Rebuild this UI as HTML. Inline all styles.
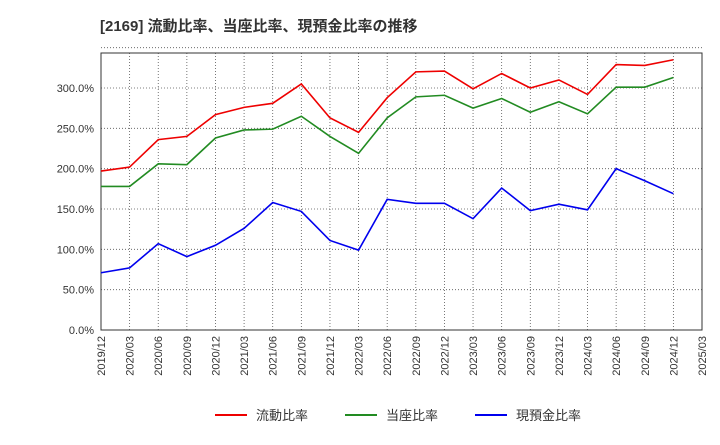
<!DOCTYPE html>
<html><head><meta charset="utf-8"><style>
body{margin:0;background:#fff;font-family:"Liberation Sans","Noto Sans CJK JP",sans-serif;}
svg text{font-family:"Liberation Sans","Noto Sans CJK JP",sans-serif;}
</style></head><body>
<svg id="chart" width="720" height="440">
<text x="100" y="31" font-size="15" font-weight="bold" fill="#333">[2169]  流動比率、当座比率、現預金比率の推移</text>
<g id="grid"></g><g id="axes"></g><g id="series"></g><g id="legend"></g>
</svg>
<script>
const categories=["2019/12","2020/03","2020/06","2020/09","2020/12","2021/03","2021/06","2021/09","2021/12","2022/03","2022/06","2022/09","2022/12","2023/03","2023/06","2023/09","2023/12","2024/03","2024/06","2024/09","2024/12","2025/03"];
const currentRatio=[197,202,236,240,267,276,281,305,263,245,288,320,321,299,318,300,310,292,329,328,335];
const quickRatio=[178,178,206,205,238,248,249,265,240,219,263,289,291,275,287,270,283,268,301,301,313];
const cashRatio=[71,77,107,91,105,126,158,147,111,99,162,157,157,138,176,148,156,149,200,185,169];
const yTicks=[0,50,100,150,200,250,300];
const yTickLabels=["0.0%","50.0%","100.0%","150.0%","200.0%","250.0%","300.0%"];
const seriesNames=["流動比率","当座比率","現預金比率"];
const NS="http://www.w3.org/2000/svg";
const L=101,R=702,T=53,B=330;
const xs=i=>L+i*(R-L)/(categories.length-1);
const ys=v=>B-v*(242/300);
function mk(tag,attrs,parent){const e=document.createElementNS(NS,tag);for(const k in attrs)e.setAttribute(k,attrs[k]);document.getElementById(parent).appendChild(e);return e;}
// frame
const fr=mk('rect',{x:L,y:T,width:R-L,height:B-T,fill:'none',stroke:'#333','stroke-width':1},'axes');


// horizontal grid
[...yTicks,350].forEach((v,i)=>{
 const g=mk('line',{x1:L,x2:R,y1:ys(v),y2:ys(v),stroke:'#555','stroke-width':0.8,'stroke-dasharray':'1,2'},'grid');
 
 
 if(i<yTicks.length){
 const t=mk('text',{x:L-7,y:ys(v)+4,'text-anchor':'end','font-size':11,fill:'#333'},'axes');
 t.textContent=yTickLabels[i];
 
 }
});
categories.forEach((c,i)=>{
 const g=mk('line',{x1:xs(i),x2:xs(i),y1:T,y2:B,stroke:'#555','stroke-width':0.8,'stroke-dasharray':'1,2'},'grid');
 
 
 const t=mk('text',{x:xs(i)+4,y:B+6,'text-anchor':'end','font-size':11,fill:'#333',transform:`rotate(-90 ${xs(i)+4} ${B+6})`},'axes');
 t.textContent=c;
 
 
});
const colors=["#e00","#228b22","#00e"];
[currentRatio,quickRatio,cashRatio].forEach((d,s)=>{
 const p=mk('polyline',{points:d.map((v,i)=>xs(i)+','+ys(v)).join(' '),fill:'none',stroke:colors[s],'stroke-width':1.6},'series');
 
 
 const lx=[215,345,475][s];
 const ll=mk('line',{x1:lx,x2:lx+32,y1:415,y2:415,stroke:colors[s],'stroke-width':2},'legend');
 
 
 const lt=mk('text',{x:lx+41,y:420,'font-size':13,fill:'#333'},'legend');
 lt.textContent=seriesNames[s];
 
 
});
</script>
</body></html>
